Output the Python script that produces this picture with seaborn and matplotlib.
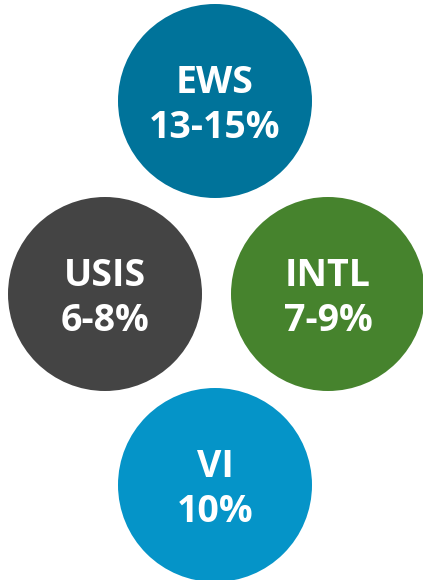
import matplotlib
matplotlib.use("Agg")
import matplotlib.pyplot as plt
import seaborn as sns
import pandas as pd

# segment labels and growth ranges
segments = ["EWS", "USIS", "INTL", "VI"]
growth = ["13-15%", "6-8%", "7-9%", "10%"]
colors = ["#00739A", "#444444", "#46832D", "#0594C8"]

# layout (pixel coords, y down)
cx = [215, 105, 328, 215]
cy = [101, 294, 294, 485]

sns.set_theme(style="white")
plt.rcParams["font.family"] = ["Open Sans", "DejaVu Sans"]

df = pd.DataFrame({"seg": segments, "x": cx, "y": cy})

fig = plt.figure(figsize=(4.23, 5.8), dpi=100)
ax = fig.add_axes([0, 0, 1, 1])

diam_pt = 194 * 72 / 100
sns.scatterplot(data=df, x="x", y="y", hue="seg", palette=colors,
                s=diam_pt ** 2, linewidth=0, legend=False, ax=ax)

for seg, g, x, y in zip(segments, growth, cx, cy):
    ax.text(x, y - 8, seg, color="white", fontsize=27, fontweight="bold",
            ha="center", va="baseline")
    ax.text(x, y + 37, g, color="white", fontsize=27, fontweight="bold",
            ha="center", va="baseline")

ax.set_xlim(0, 423)
ax.set_ylim(580, 0)
ax.axis("off")
fig.savefig("out.png", dpi=100)
